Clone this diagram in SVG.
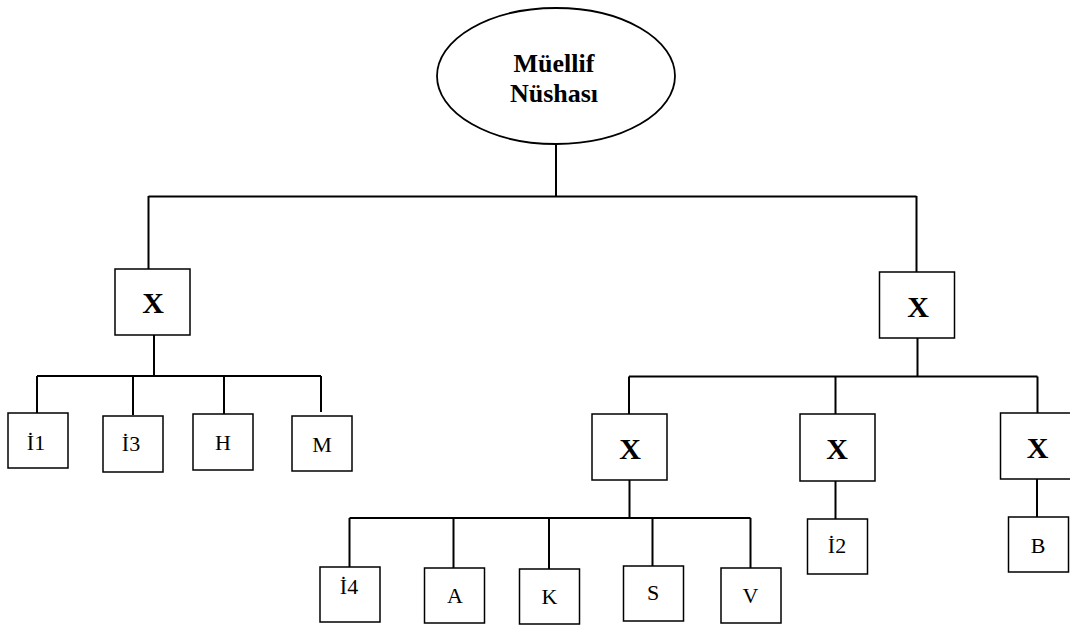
<svg xmlns="http://www.w3.org/2000/svg" width="1070" height="626" viewBox="0 0 1070 626">
  <style>
    .box { fill: #ffffff; stroke: #000000; stroke-width: 1.5; }
    .root { fill: #ffffff; stroke: #000000; stroke-width: 1.8; }
    .wire { fill: none; stroke: #000000; stroke-width: 2; }
    .x { font-family: "Liberation Serif", "Times New Roman", serif; font-weight: bold; font-size: 30px; text-anchor: middle; fill: #000; }
    .lbl { font-family: "Liberation Serif", "Times New Roman", serif; font-size: 22px; text-anchor: middle; fill: #000; }
    .title { font-family: "Liberation Serif", "Times New Roman", serif; font-weight: bold; font-size: 26px; text-anchor: middle; fill: #000; }
  </style>
  <rect width="1070" height="626" fill="#ffffff"/>

  <!-- connectors -->
  <g id="connectors" class="wire">
    <!-- root to first level -->
    <path d="M556 144 V196.5 M148.5 196.5 H916.5 M148.5 196 V269 M916.5 196 V272"/>
    <!-- left X to its leaves -->
    <path d="M154 335 V376 M37 376 H321 M37 376 V413 M133 376 V415 M224 376 V414 M321 376 V412"/>
    <!-- right X to its three X nodes -->
    <path d="M917.5 338 V376.5 M629 376.5 H1037.5 M629 376.5 V414 M835.5 376.5 V414 M1037.5 376.5 V413"/>
    <!-- lower-left X to its leaves -->
    <path d="M629.5 480 V518 M349.5 518 H750.5 M349.5 518 V567 M453.5 518 V568 M549 518 V569 M652.5 518 V566 M750.5 518 V568"/>
    <!-- single-child links -->
    <path d="M835.5 481 V519 M1037 479 V517"/>
  </g>

  <!-- root -->
  <g id="root">
    <ellipse class="root" cx="556" cy="76" rx="119" ry="68"/>
    <text class="title" x="554" y="72">Müellif</text>
    <text class="title" x="554" y="102">Nüshası</text>
  </g>

  <!-- first level -->
  <g id="x-left">
    <rect class="box" x="115" y="269" width="75" height="66"/>
    <text class="x" x="153" y="313">X</text>
  </g>
  <g id="x-right">
    <rect class="box" x="879.5" y="272" width="75" height="66"/>
    <text class="x" x="918" y="317">X</text>
  </g>

  <!-- leaves of left X -->
  <g id="i1">
    <rect class="box" x="8" y="413" width="60" height="55"/>
    <text class="lbl" x="36" y="450">İ1</text>
  </g>
  <g id="i3">
    <rect class="box" x="103" y="416" width="60" height="56"/>
    <text class="lbl" x="131" y="451">İ3</text>
  </g>
  <g id="h">
    <rect class="box" x="193" y="414" width="60" height="56"/>
    <text class="lbl" x="223" y="450">H</text>
  </g>
  <g id="m">
    <rect class="box" x="292" y="416" width="60" height="55"/>
    <text class="lbl" x="322" y="452">M</text>
  </g>

  <!-- second level under right X -->
  <g id="x-a">
    <rect class="box" x="592" y="414" width="75" height="66"/>
    <text class="x" x="630" y="459">X</text>
  </g>
  <g id="x-b">
    <rect class="box" x="800" y="414" width="75" height="67"/>
    <text class="x" x="837" y="459">X</text>
  </g>
  <g id="x-c">
    <rect class="box" x="1000.5" y="413" width="75" height="66"/>
    <text class="x" x="1037.5" y="458">X</text>
  </g>

  <!-- leaves of lower-left X -->
  <g id="i4">
    <rect class="box" x="320" y="567" width="60" height="55"/>
    <text class="lbl" x="349" y="594">İ4</text>
  </g>
  <g id="a">
    <rect class="box" x="424.5" y="568" width="60" height="55"/>
    <text class="lbl" x="455" y="603">A</text>
  </g>
  <g id="k">
    <rect class="box" x="519.5" y="569" width="60" height="55"/>
    <text class="lbl" x="549.5" y="604">K</text>
  </g>
  <g id="s">
    <rect class="box" x="623.5" y="566" width="60" height="55"/>
    <text class="lbl" x="653" y="600">S</text>
  </g>
  <g id="v">
    <rect class="box" x="721" y="568" width="60" height="55"/>
    <text class="lbl" x="750.5" y="603">V</text>
  </g>

  <!-- single leaves -->
  <g id="i2">
    <rect class="box" x="807.5" y="519" width="60" height="55"/>
    <text class="lbl" x="837" y="553">İ2</text>
  </g>
  <g id="b">
    <rect class="box" x="1008.5" y="517" width="60" height="55"/>
    <text class="lbl" x="1038" y="553">B</text>
  </g>
</svg>
